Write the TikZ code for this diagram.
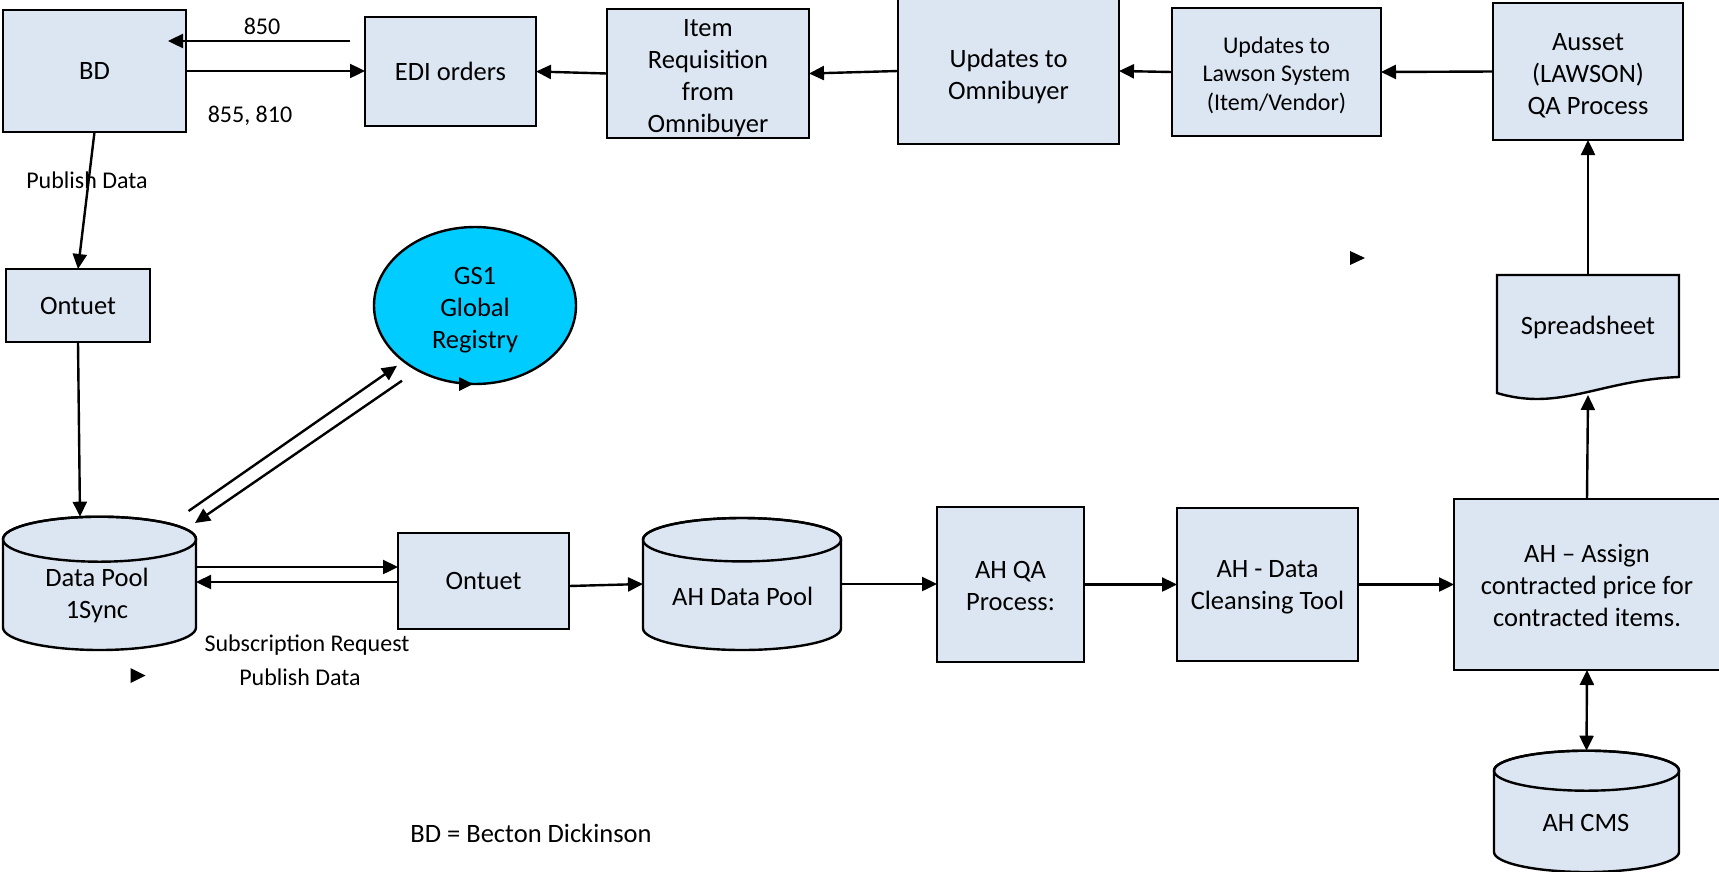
\documentclass[tikz,border=0pt]{standalone}
\usepackage{fontspec}
\setmainfont{Carlito}
\usetikzlibrary{arrows.meta,shapes.geometric,calc}
\definecolor{boxfill}{RGB}{220,230,242}
\definecolor{gscyan}{RGB}{0,204,255}
\newcommand\bigfs{\fontsize{26.5}{32}\selectfont}
\newcommand\midfs{\fontsize{24}{28.5}\selectfont}
\newcommand\labfs{\fontsize{24}{29}\selectfont}
\newcommand\drawcyl[5]{%
  \pgfmathsetmacro\cylcx{(#1+#3)/2}%
  \pgfmathsetmacro\cylrx{(#3-#1)/2}%
  \pgfmathsetmacro\cylyt{#2+#5}%
  \pgfmathsetmacro\cylyb{#4-#5}%
  \filldraw[fill=boxfill, line width=2.4pt] (#1,\cylyt) -- (#1,\cylyb)
     arc[start angle=180, end angle=0, x radius=\cylrx, y radius=#5]
     -- (#3,\cylyt)
     arc[start angle=0, end angle=-180, x radius=\cylrx, y radius=#5] -- cycle;
  \draw[line width=2.4pt] (\cylcx,\cylyt) ellipse[x radius=\cylrx, y radius=#5];
}
\tikzset{
  box/.style={draw, line width=2.4pt, fill=boxfill, inner sep=0pt, outer sep=0pt, align=center, font=\bigfs},
  anchorbox/.style={inner sep=0pt, outer sep=0pt, draw=none},
  txt/.style={inner sep=0pt, align=center, font=\bigfs},
  lab/.style={inner sep=0pt, align=center, font=\labfs},
  arr/.style={line width=2.4pt, -{Triangle[length=15pt,width=14pt]}},
  darr/.style={line width=2.4pt, {Triangle[length=15pt,width=14pt]}-{Triangle[length=15pt,width=14pt]}}
}
\begin{document}
\begin{tikzpicture}[x=1pt,y=-1pt]
\useasboundingbox (0,0) rectangle (1719,871);

% top row
\node[box, minimum width=183pt, minimum height=122pt] (bd) at (94.5,71) {BD};
\node[box, minimum width=171pt, minimum height=109pt] (edi) at (450.5,71.5) {EDI orders};
\node[box, minimum width=202pt, minimum height=129pt] (ir) at (708,73.5) {};
\node[txt] (irtxt) at (708,78) {Item\\Requisition\\from\\Omnibuyer};
\node[box, minimum width=221pt, minimum height=146pt] (uo) at (1008.5,71) {};
\node[txt] (uotxt) at (1008.5,76) {Updates to\\Omnibuyer};
\node[box, minimum width=209pt, minimum height=128pt] (lw) at (1276.5,72) {};
\node[txt, font=\midfs] (lwtxt) at (1276.5,75.3) {Updates to\\Lawson System\\(Item/Vendor)};
\node[box, minimum width=190pt, minimum height=137pt] (au) at (1588,71.5) {};
\node[txt] (autxt) at (1588,75.3) {Ausset\\(LAWSON)\\QA Process};

% left column
\node[box, minimum width=144pt, minimum height=73pt] (on1) at (78,305.5) {Ontuet};
\node[draw, ellipse, fill=gscyan, line width=2.4pt, inner sep=0pt, outer sep=0pt, minimum width=202pt, minimum height=157pt] (gs) at (475,305.5) {};
\node[txt] (gstxt) at (475,310) {GS1\\Global\\Registry};

% Data Pool cylinder
\drawcyl{3}{516.7}{196}{650}{22.5}
\node[anchorbox, minimum width=193pt, minimum height=133.3pt] (dp) at (99.5,583.35) {};
\node[txt] (dptxt) at (97,595) {Data Pool\\1Sync};

\node[box, minimum width=171pt, minimum height=96pt] (on2) at (483.5,581) {Ontuet};

% AH Data Pool cylinder
\drawcyl{643}{518}{841}{650}{21.7}
\node[anchorbox, minimum width=198pt, minimum height=132pt] (ahdp) at (742,584) {};
\node[txt] (ahdptxt) at (742.7,596) {AH Data Pool};

\node[box, minimum width=147pt, minimum height=155pt] (qa) at (1010.5,584.5) {};
\node[txt] (qatxt) at (1010.5,585.5) {AH QA\\Process:};
\node[box, minimum width=181pt, minimum height=153pt] (cl) at (1267.5,584.5) {};
\node[txt] (cltxt) at (1267.5,587) {AH - Data\\Cleansing Tool};
\node[box, minimum width=266pt, minimum height=171pt] (as) at (1587,584.5) {};
\node[txt] (astxt) at (1587,585) {AH -- Assign\\contracted price for\\contracted items.};

% Spreadsheet (document shape)
\filldraw[fill=boxfill, line width=2.4pt] (1497,275) -- (1679,275) -- (1679,377)
   .. controls (1600,380) and (1560,412) .. (1497,393) -- cycle;
\node[anchorbox, minimum width=182pt, minimum height=120pt] (ss) at (1588,335) {};
\node[txt] (sstxt) at (1588,327) {Spreadsheet};

% AH CMS cylinder
\drawcyl{1494}{750.7}{1679}{872}{20}
\node[anchorbox, minimum width=185pt, minimum height=121.3pt] (cms) at (1586.5,811.35) {};
\node[txt] (cmstxt) at (1586,822.5) {AH CMS};

% connectors top row
\draw[arr, shorten <=15pt, shorten >=-18pt] ([yshift=30.5pt]edi.west) -- ([yshift=30.5pt]edi.west -| bd.east);
\draw[arr] (bd.east) -- (bd.east -| edi.west);
\draw[arr] (ir.west) -- (edi.east);
\draw[arr] (uo.west) -- (ir.east);
\draw[arr] (lw.west) -- (uo.east);
\draw[arr] (au.west) -- (lw.east);

% left side
\draw[arr] (bd.south) -- (on1.north);
\draw[arr] (on1.south) -- ([xshift=2pt]on1.south |- dp.north);
\draw[arr] ([shift={(-7.4pt,5.7pt)}]dp.north east) -- ([shift={(-78pt,-60.3pt)}]gs.center);
\draw[arr] ([shift={(-73pt,-75.2pt)}]gs.center) -- ([shift={(-1pt,-6.3pt)}]dp.north east);
\draw[arr] ([yshift=14pt]on2.west -| dp.east) -- ([yshift=14pt]on2.west);
\draw[arr] ([yshift=-1pt]on2.west) -- ([yshift=-1pt]on2.west -| dp.east);

% bottom row
\draw[arr] ([yshift=-5pt]on2.east) -- (ahdp.west);
\draw[arr] (ahdp.east) -- (ahdp.east -| qa.west);
\draw[arr] (qa.east) -- (cl.west);
\draw[arr] (cl.east) -- (cl.east -| as.west);

% right column
\draw[arr] (as.north) -- (ss.south);
\draw[arr] (ss.north) -- (au.south);
\draw[darr] (as.south) -- (cms.north);

% labels
\node[lab] (l850) at (262,26.5) {850};
\node[lab] (l855) at (250,116) {855, 810};
\node[lab] (lpub1) at (87,180) {Publish Data};
\node[lab] (lsub) at (307,645) {Subscription Request};
\node[lab] (lpub2) at (300,677) {Publish Data};
\node[txt] (lbd) at (531,833) {BD = Becton Dickinson};

% stray arrowheads
\fill (459,377) -- (473,384) -- (459,391) -- cycle;
\fill (130.5,668) -- (145.5,675.5) -- (130.5,683) -- cycle;
\fill (1350,251) -- (1365,258) -- (1350,265) -- cycle;
\end{tikzpicture}
\end{document}
